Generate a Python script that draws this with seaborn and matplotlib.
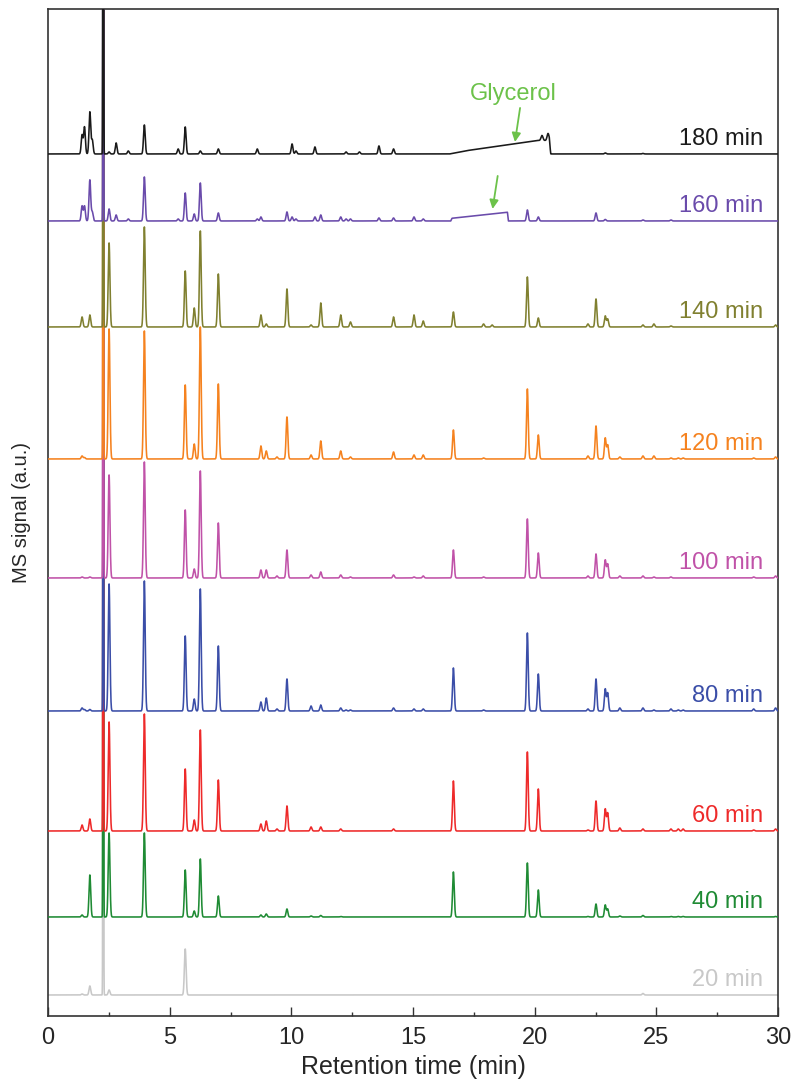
import numpy as np
import matplotlib
matplotlib.use("Agg")
import matplotlib.pyplot as plt
from matplotlib.ticker import MultipleLocator
import seaborn as sns

# ---------------- data ----------------
SERIES_LABELS = ["20 min", "40 min", "60 min", "80 min", "100 min",
                 "120 min", "140 min", "160 min", "180 min"]
SERIES_COLORS = ["#c8c8c8", "#1f8b34", "#ee2a2a", "#3b4ea8", "#c052a8",
                 "#f5821f", "#808030", "#6a4bab", "#1a1a1a"]
# vertical stacking offset of each trace (a.u.)
OFFSETS = [21, 99, 185, 305, 438, 557, 689, 795, 862]

# retention times (min) of the resolved peaks
PEAK_TIMES = [1.40, 1.50, 1.72, 1.82, 2.27, 2.51, 2.80, 3.30, 3.96, 5.35,
              5.64, 6.01, 6.26, 7.00, 8.60, 8.75, 8.97, 9.41, 9.82, 10.03,
              10.19, 10.81, 10.97, 11.21, 12.03, 12.25, 12.43, 12.80, 13.60, 14.20,
              15.04, 15.42, 16.66, 17.90, 18.25, 19.70, 20.15, 22.19, 22.52, 22.90,
              23.00, 23.50, 24.45, 24.90, 25.60, 25.90, 26.10, 29.00, 29.90]

# peak heights (a.u.) for each reaction time, aligned with PEAK_TIMES
# (the 2.27 min solvent peak is off-scale in every trace)
H_20 = [1, 0, 9, 0, 1100, 5, 0, 0, 0, 0,
        46, 0, 0, 0, 0, 0, 0, 0, 0, 0,
        0, 0, 0, 0, 0, 0, 0, 0, 0, 0,
        0, 0, 0, 0, 0, 0, 0, 0, 0, 0,
        0, 0, 1.5, 0, 0, 0, 0, 0, 0]
H_40 = [2, 0, 42, 0, 1100, 84, 0, 0, 84, 0,
        47, 6, 58, 21, 0, 2, 3, 0, 8, 0,
        0, 1, 0, 1.5, 0.5, 0, 0, 0, 0, 0,
        0, 0, 45, 0, 0, 54, 27, 0.5, 13, 12,
        8, 1, 1.5, 0, 0.5, 0.5, 0.5, 0, 0.5]
H_60 = [6, 0, 12, 0, 1100, 109, 0, 0, 117, 0,
        62, 11, 101, 51, 0, 7, 10, 2, 25, 0,
        0, 4, 0, 4, 2, 0, 0, 0, 0, 2,
        0, 0, 50, 0, 0, 79, 42, 1, 30, 22,
        18, 3, 2, 0, 2, 2, 2, 1, 2]
H_80 = [3, 1.5, 1.5, 0, 1100, 127, 0, 0, 130, 0,
        75, 12, 122, 65, 0, 9, 13, 2, 32, 0,
        0, 5, 0, 6, 3, 1, 1, 0, 0, 3,
        2, 2, 43, 1, 0, 78, 37, 2, 32, 22,
        18, 3, 3, 1, 2, 1, 1, 2, 3]
H_100 = [1, 0, 1, 0, 1100, 103, 0, 0, 116, 0,
         68, 9, 107, 55, 0, 8, 8, 2, 28, 0,
         0, 3, 0, 6, 3, 0, 1, 0, 0, 3,
         1, 2, 28, 1, 0, 59, 25, 2, 24, 18,
         14, 2, 2, 1, 1, 0, 0, 1, 2]
H_120 = [3, 1.5, 0, 0, 1100, 130, 0, 0, 128, 0,
         74, 15, 132, 75, 0, 13, 8, 2, 42, 0,
         0, 4, 0, 18, 8, 0, 2, 0, 0, 7,
         4, 4, 29, 1, 0, 70, 24, 3, 33, 21,
         14, 2, 3, 3, 1, 1, 1, 1, 2]
H_140 = [10, 0, 12, 0, 1100, 84, 0, 0, 100, 0,
         56, 19, 96, 53, 0, 12, 3, 0, 38, 0,
         0, 2, 0, 24, 12, 0, 5, 0, 0, 10,
         12, 6, 15, 3, 2, 50, 9, 3, 28, 11,
         8, 0, 2, 3, 1, 0, 0, 0, 2]
H_160 = [15, 15, 41, 9, 1100, 12, 6, 2, 44, 2,
         28, 7, 38, 8, 2, 4, 0, 0, 9, 4,
         2, 0, 4, 6, 4, 2, 2, 0, 3, 3,
         4, 2, 0, 0, 0, 11, 4, 0, 8, 1.5,
         0, 0, 1, 0, 1, 0, 0, 0, 0]
H_180 = [19, 27, 42, 14, 1100, 2, 11, 3, 29, 5,
         27, 0, 3, 5, 5, 0, 0, 0, 0, 10,
         3, 0, 7, 0, 0, 2, 0, 2, 8, 5,
         0, 0, 0, 0, 0, 0, 0, 0, 0, 1,
         0, 0, 0.5, 0, 0, 0, 0, 0, 0]

# glycerol hump (breakpoints of the raised baseline)
GLY180_T = [16.50, 17.20, 20.10, 20.60, 20.66]
GLY180_H = [0, 3.3, 13.5, 13.5, 0]
GLY180_SPIKE_T = [20.30, 20.55]
GLY180_SPIKE_H = [5, 7]
GLY160_T = [16.55, 16.60, 18.88, 18.92]
GLY160_H = [0, 2.7, 8.7, 0]

# ---------------- build traces ----------------
t = np.linspace(0, 30, 12001)
SIGMA = 0.035          # width of ordinary peaks (min)
SIGMA_OFFSCALE = 0.012  # the saturated solvent peak is drawn as a sharp spike


def trace(times, heights, sigma=SIGMA):
    y = np.zeros_like(t)
    for tp, h in zip(times, heights):
        if h:
            s = SIGMA_OFFSCALE if h > 500 else sigma
            y += h * np.exp(-0.5 * ((t - tp) / s) ** 2)
    return y


heights = [H_20, H_40, H_60, H_80, H_100, H_120, H_140, H_160, H_180]
signals = [trace(PEAK_TIMES, h) for h in heights]
signals[8] = (signals[8] + np.interp(t, GLY180_T, GLY180_H, left=0, right=0)
              + trace(GLY180_SPIKE_T, GLY180_SPIKE_H, 0.04))
signals[7] = signals[7] + np.interp(t, GLY160_T, GLY160_H, left=0, right=0)

# ---------------- plot ----------------
sns.set_style("ticks")
plt.rcParams["font.family"] = ["Liberation Sans", "DejaVu Sans"]

fig = plt.figure(figsize=(7.96, 10.79), dpi=100)
ax = fig.add_axes([0.0603, 0.0584, 0.9774 - 0.0603, 0.9917 - 0.0584])

for i, (lab, col, off, sig) in enumerate(zip(SERIES_LABELS, SERIES_COLORS, OFFSETS, signals)):
    sns.lineplot(x=t, y=off + sig, ax=ax, color=col, lw=1.15,
                 estimator=None, sort=False, legend=False, zorder=2 + i)
    ax.text(29.38, off + 9, lab, ha="right", va="baseline", color=col,
            fontsize=17, zorder=20)

GLY_COLOR = "#6cc24a"
ax.text(19.11, 916, "Glycerol", ha="center", va="baseline", color=GLY_COLOR,
        fontsize=17, zorder=20)
arrow = dict(arrowstyle="-|>", color=GLY_COLOR, lw=1.3, mutation_scale=13,
             shrinkA=0, shrinkB=0)
ax.annotate("", xy=(19.19, 874), xytext=(19.40, 908), arrowprops=arrow, zorder=20)
ax.annotate("", xy=(18.27, 807), xytext=(18.48, 840), arrowprops=arrow, zorder=20)

ax.set_xlim(0, 30)
ax.set_ylim(0, 1007)
ax.xaxis.set_major_locator(MultipleLocator(5))
ax.xaxis.set_minor_locator(MultipleLocator(2.5))
ax.tick_params(axis="x", which="major", direction="in", length=6.5, width=1.0,
               labelsize=17, pad=8, top=False, color="#333333")
ax.tick_params(axis="x", which="minor", direction="in", length=3.2, width=1.0,
               top=False, color="#333333")
ax.tick_params(axis="y", left=False, labelleft=False)
for s in ax.spines.values():
    s.set_linewidth(1.2)
    s.set_color("#333333")

ax.set_xlabel("Retention time (min)", fontsize=18, labelpad=4)
ax.set_ylabel("MS signal (a.u.)", fontsize=14.5, labelpad=12)

fig.savefig("out.png", dpi=100)
